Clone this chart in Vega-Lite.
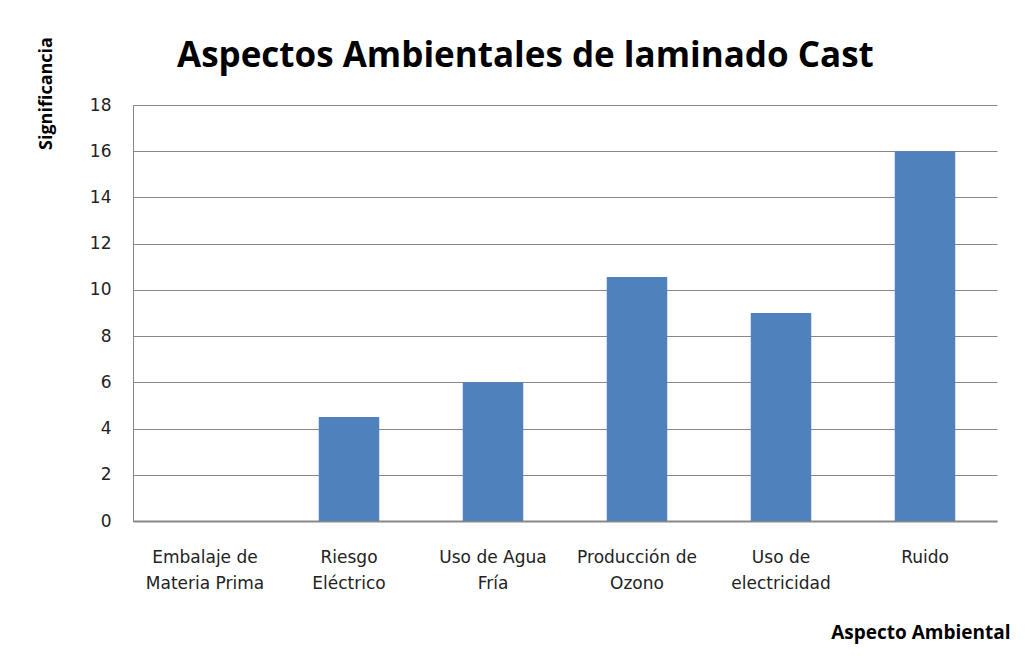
{
  "$schema": "https://vega.github.io/schema/vega-lite/v6.json",
  "width": 864,
  "height": 416,
  "autosize": "none",
  "padding": {"left": 133, "top": 105, "right": 36, "bottom": 142},
  "background": "white",
  "title": {
    "text": "Aspectos Ambientales de laminado Cast",
    "anchor": "start",
    "frame": "group",
    "dx": 44,
    "offset": -37,
    "fontSize": 35,
    "font": "Open Sans",
    "fontWeight": "bold",
    "color": "#000000"
  },
  "data": {
    "values": [
      {"aspecto": "Embalaje de Materia Prima", "significancia": 0},
      {"aspecto": "Riesgo Eléctrico", "significancia": 4.5},
      {"aspecto": "Uso de Agua Fría", "significancia": 6},
      {"aspecto": "Producción de Ozono", "significancia": 10.56},
      {"aspecto": "Uso de electricidad", "significancia": 9},
      {"aspecto": "Ruido", "significancia": 16}
    ]
  },
  "mark": {"type": "bar", "color": "#4f81bd"},
  "encoding": {
    "x": {
      "field": "aspecto",
      "type": "nominal",
      "sort": null,
      "scale": {"paddingInner": 0.58, "paddingOuter": 0.29},
      "axis": {
        "title": "Aspecto Ambiental",
        "titleFont": "Open Sans",
        "titleFontSize": 19,
        "titleFontWeight": "bold",
        "titleColor": "#000000",
        "titleAnchor": "end",
        "titleAlign": "right",
        "titleX": 877,
        "titleY": 102,
        "labelAngle": 0,
        "labelFont": "DejaVu Sans",
        "labelFontSize": 17,
        "labelColor": "#222222",
        "labelLineHeight": 26,
        "labelPadding": 28,
        "labelBaseline": "top",
        "labelExpr": "datum.label == 'Embalaje de Materia Prima' ? ['Embalaje de', 'Materia Prima'] : datum.label == 'Riesgo Eléctrico' ? ['Riesgo', 'Eléctrico'] : datum.label == 'Uso de Agua Fría' ? ['Uso de Agua', 'Fría'] : datum.label == 'Producción de Ozono' ? ['Producción de', 'Ozono'] : datum.label == 'Uso de electricidad' ? ['Uso de', 'electricidad'] : datum.label",
        "ticks": false,
        "domainColor": "#888888",
        "domainWidth": 2,
        "grid": false
      }
    },
    "y": {
      "field": "significancia",
      "type": "quantitative",
      "scale": {"domain": [0, 18], "nice": false},
      "axis": {
        "title": "Significancia",
        "titleFont": "Open Sans",
        "titleFontSize": 18,
        "titleFontWeight": "bold",
        "titleColor": "#000000",
        "titleAngle": -90,
        "titleAlign": "center",
        "titleBaseline": "middle",
        "titleX": -87,
        "titleY": -12,
        "values": [0, 2, 4, 6, 8, 10, 12, 14, 16, 18],
        "labelFont": "DejaVu Sans",
        "labelFontSize": 17,
        "labelColor": "#222222",
        "labelPadding": 22,
        "ticks": false,
        "domainColor": "#888888",
        "domainWidth": 1,
        "grid": true,
        "gridColor": "#888888",
        "gridWidth": 1,
        "gridOpacity": 1
      }
    }
  },
  "config": {
    "view": {"stroke": null}
  }
}
